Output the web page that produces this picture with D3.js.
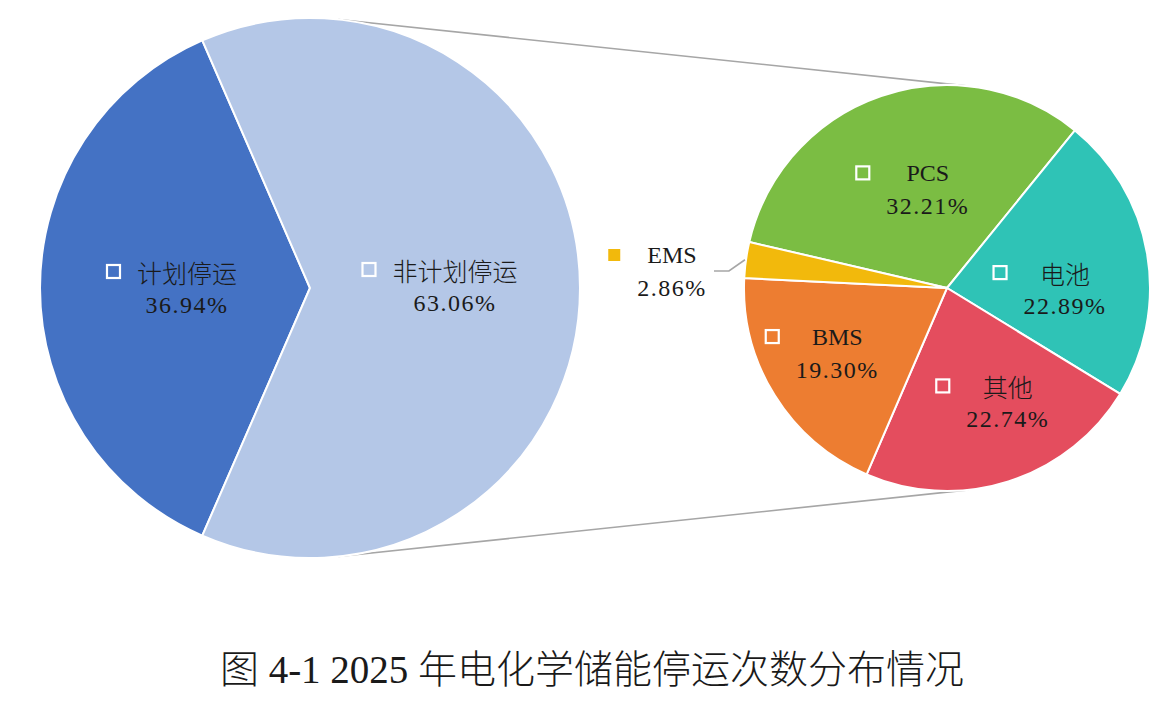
<!DOCTYPE html>
<html>
<head>
<meta charset="utf-8">
<script src="https://cdn.jsdelivr.net/npm/d3@7"></script>
<style>
  body { margin: 0; background: #fff; }
  svg text { fill: #1a1a1a; }
</style>
</head>
<body>
<svg id="chart" width="1176" height="709"></svg>
<script>
// main pie
const mainNames = ["计划停运", "非计划停运"];
const mainValues = [36.94, 63.06];
const mainColors = ["#4472C4", "#B4C7E7"];

// secondary pie (breakdown of 非计划停运)
const subNames = ["PCS", "电池", "其他", "BMS", "EMS"];
const subValues = [32.21, 22.89, 22.74, 19.30, 2.86];
const subColors = ["#7BBD43", "#2FC3B6", "#E44D5E", "#ED7D31", "#F2B90C"];

const title = "图 4-1 2025 年电化学储能停运次数分布情况";

const svg = d3.select("#chart");
const rad = d => d * Math.PI / 180;

const main = {cx: 310, cy: 288, r: 270};
const sub = {cx: 947, cy: 288, r: 203};

// planned slice is centred on the left side
const mainStart = rad(270 - mainValues[0] / 100 * 180);
const mainPie = d3.pie().sort(null)
    .startAngle(mainStart)
    .endAngle(mainStart + 2 * Math.PI);
const mainArcs = mainPie(mainValues);

const subStart = rad(-76.9);
const subPie = d3.pie().sort(null)
    .startAngle(subStart)
    .endAngle(subStart + 2 * Math.PI);
const subArcs = subPie(subValues);

const polar = (c, a, r) => [c.cx + r * Math.sin(a), c.cy - r * Math.cos(a)];

// connector lines: outer common tangents of the two circles
const phi = Math.asin((main.r - sub.r) / (sub.cx - main.cx));
const connectors = [
    [polar(main, phi, main.r), polar(sub, phi, sub.r)],
    [polar(main, Math.PI - phi, main.r), polar(sub, Math.PI - phi, sub.r)]
];
svg.append("g")
    .selectAll("line")
    .data(connectors)
    .enter()
    .append("line")
    .attr("x1", d => d[0][0]).attr("y1", d => d[0][1])
    .attr("x2", d => d[1][0]).attr("y2", d => d[1][1])
    .attr("stroke", "#A6A6A6")
    .attr("stroke-width", 1.6);

function drawPie(c, arcs, colors) {
    const arc = d3.arc().innerRadius(0).outerRadius(c.r);
    svg.append("g")
        .attr("transform", `translate(${c.cx},${c.cy})`)
        .selectAll("path")
        .data(arcs)
        .enter()
        .append("path")
        .attr("d", arc)
        .attr("fill", (d, i) => colors[i])
        .attr("stroke", "#fff")
        .attr("stroke-width", 2);
}
drawPie(main, mainArcs, mainColors);
drawPie(sub, subArcs, subColors);

function drawLabel(x, y, name, pct, key) {
    const g = svg.append("g").attr("transform", `translate(${x},${y})`);
    const isLatin = /^[A-Z]+$/.test(name);
    const t1 = g.append("text")
        .attr("y", -16)
        .attr("text-anchor", "middle")
        .attr("dominant-baseline", "central")
        .style("font-family", isLatin ? "'Liberation Serif'" : "'Noto Sans CJK SC'")
        .style("font-weight", isLatin ? 400 : 300)
        .style("font-size", isLatin ? "24px" : "25px")
        .text(name);
    const t2 = g.append("text")
        .attr("y", 17)
        .attr("text-anchor", "middle")
        .attr("dominant-baseline", "central")
        .style("font-family", "'Liberation Serif'")
        .style("font-size", "24px")
        .style("letter-spacing", "1.5px")
        .text(pct.toFixed(2) + "%");
    const w = Math.max(t1.node().getBBox().width, t2.node().getBBox().width);
    const kx = -w / 2 - 17 - 13;
    if (key.filled) {
        g.append("rect")
            .attr("x", kx + 1).attr("y", -22)
            .attr("width", 12).attr("height", 12)
            .attr("fill", key.color);
    } else {
        g.append("rect")
            .attr("x", kx).attr("y", -23)
            .attr("width", 13).attr("height", 13)
            .attr("fill", "none")
            .attr("stroke", "#fff")
            .attr("stroke-width", 2.2);
    }
}

// label layout: centroid at a fraction of radius plus a nudge
const mainNudge = [[12, 0], [10, -2]];
mainArcs.forEach((d, i) => {
    const p = polar(main, (d.startAngle + d.endAngle) / 2, main.r * 0.5);
    drawLabel(p[0] + mainNudge[i][0], p[1] + mainNudge[i][1], mainNames[i], mainValues[i], {});
});

const subNudge = [[17, 7], [8, 20], [27, 8], [-15, 6]];
subArcs.forEach((d, i) => {
    const mid = (d.startAngle + d.endAngle) / 2;
    if (i < 4) {
        const p = polar(sub, mid, sub.r * 0.55);
        drawLabel(p[0] + subNudge[i][0], p[1] + subNudge[i][1], subNames[i], subValues[i], {});
    } else {
        // small slice gets an outside label with a leader line
        const p0 = polar(sub, mid, sub.r + 1);
        const lx = 672, ly = 271;
        svg.append("polyline")
            .attr("points", [p0, [p0[0] - 16, ly], [p0[0] - 31, ly]].map(q => q.join(",")).join(" "))
            .attr("fill", "none")
            .attr("stroke", "#A6A6A6")
            .attr("stroke-width", 1.6);
        drawLabel(lx, ly, subNames[i], subValues[i], {filled: true, color: subColors[i]});
    }
});

svg.append("text")
    .attr("x", 592)
    .attr("y", 683)
    .attr("text-anchor", "middle")
    .style("font-family", "'Liberation Serif', 'Noto Sans CJK SC'")
    .style("font-weight", 300)
    .style("font-size", "39px")
    .text(title);
</script>
</body>
</html>
